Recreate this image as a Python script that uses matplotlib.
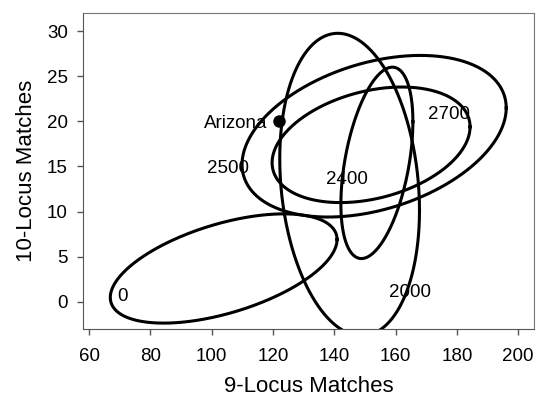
import numpy as np
import matplotlib
matplotlib.use("Agg")
import matplotlib.pyplot as plt

plt.rcParams['font.family'] = ['Liberation Sans', 'DejaVu Sans']

# ellipse summaries: centre, half-ranges and correlation (data units)
labels = ["0", "2000", "2400", "2500", "2700"]
cx = [103.9, 145.0, 153.9, 153.0, 152.0]
cy = [3.7, 13.0, 15.4, 18.35, 17.4]
sx = [37.0, 22.8, 11.75, 43.1, 32.3]
sy = [6.05, 16.75, 10.6, 8.95, 6.4]
rho = [0.53, -0.17, 0.43, 0.35, 0.31]

# label positions
label_x = [71.0, 164.8, 144.2, 105.4, 177.5]
label_y = [0.6, 1.0, 13.6, 14.8, 20.8]

arizona_x = 122.0
arizona_y = 20.0

fig = plt.figure(figsize=(5.37, 4.01), dpi=100)
ax = fig.add_axes([0.1546, 0.1796, 0.84, 0.788])

t = np.linspace(0, 2 * np.pi, 500)
for i in range(len(labels)):
    ex = cx[i] + sx[i] * np.cos(t)
    ey = cy[i] + sy[i] * (rho[i] * np.cos(t) + np.sqrt(1 - rho[i] ** 2) * np.sin(t))
    ax.plot(ex, ey, color='black', linewidth=2.2)
    ax.text(label_x[i], label_y[i], labels[i], fontsize=13.5,
            ha='center', va='center')

ax.plot([arizona_x], [arizona_y], 'o', color='black', markersize=8, zorder=5)
ax.text(arizona_x - 3.9, arizona_y - 0.2, "Arizona", fontsize=13.5,
        ha='right', va='center')

ax.set_xlim(58, 205.2)
ax.set_ylim(-3, 32)
ax.set_xticks(range(60, 201, 20))
ax.set_yticks(range(0, 31, 5))
ax.tick_params(labelsize=13.5, length=4.5, width=1, color='#555555')
ax.tick_params(axis='x', pad=9)
ax.tick_params(axis='y', pad=6.5)

for side in ['top', 'right']:
    ax.spines[side].set_color('#777777')
for side in ['left', 'bottom']:
    ax.spines[side].set_color('#555555')

ax.set_xlabel("9-Locus Matches", fontsize=16, labelpad=8)
ax.set_ylabel("10-Locus Matches", fontsize=16, labelpad=7)

plt.savefig("out.png", dpi=100)
